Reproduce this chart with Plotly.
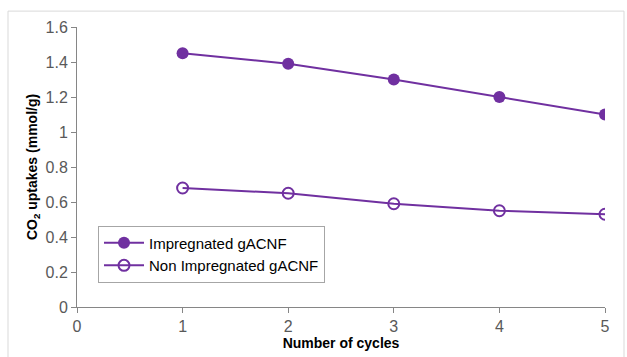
import plotly.graph_objects as go

cycles = [1, 2, 3, 4, 5]
impregnated = [1.45, 1.39, 1.30, 1.20, 1.10]
non_impregnated = [0.68, 0.65, 0.59, 0.55, 0.53]
x_ticks = [0, 1, 2, 3, 4, 5]
y_ticks = [0, 0.2, 0.4, 0.6, 0.8, 1, 1.2, 1.4, 1.6]
y_tick_text = ["0", "0.2", "0.4", "0.6", "0.8", "1", "1.2", "1.4", "1.6"]

purple = "#7030A0"
fig = go.Figure()
fig.add_trace(go.Scatter(
    x=cycles, y=impregnated, mode="lines+markers", name="Impregnated gACNF",
    line=dict(color=purple, width=2),
    marker=dict(symbol="circle", size=12, color=purple),
))
fig.add_trace(go.Scatter(
    x=cycles, y=non_impregnated, mode="lines+markers", name="Non Impregnated gACNF",
    line=dict(color=purple, width=2),
    marker=dict(symbol="circle-open", size=11, color=purple, line=dict(width=2, color=purple)),
))

tick_font = dict(family="Arial", size=16, color="#595959")
fig.update_layout(
    width=627, height=357,
    margin=dict(l=77, r=22, t=27, b=48),
    paper_bgcolor="white", plot_bgcolor="white",
    font=dict(family="Arial", size=12, color="black"),
    showlegend=True,
    legend=dict(x=21/528, y=82/282, xanchor="left", yanchor="top",
                bordercolor="#a6a6a6", borderwidth=1, bgcolor="white",
                font=dict(size=15, color="black"), itemwidth=40, tracegroupgap=0),
)
fig.update_xaxes(range=[0, 5], tickvals=x_ticks, showgrid=False, zeroline=False,
                 showline=True, linecolor="#868686", linewidth=1,
                 ticks="outside", ticklen=5, tickcolor="#868686",
                 tickfont=tick_font,
                 title_text="<b>Number of cycles</b>", title_font=dict(size=14, color="black"),
                 title_standoff=0)
fig.update_yaxes(range=[0, 1.6], tickvals=y_ticks, ticktext=y_tick_text, showgrid=False, zeroline=False,
                 showline=True, linecolor="#868686", linewidth=1,
                 ticks="outside", ticklen=5, tickcolor="#868686",
                 tickfont=tick_font,
                 title_text="<b>CO<sub>2</sub> uptakes (mmol/g)</b>", title_font=dict(size=14, color="black"),
                 title_standoff=4)
fig.add_shape(type="rect", xref="paper", yref="paper",
              x0=-69/528, x1=547/528, y0=-60/282, y1=298/282,
              line=dict(color="#d9d9d9", width=1), fillcolor="rgba(0,0,0,0)", layer="below")
fig.write_html("out.html")
